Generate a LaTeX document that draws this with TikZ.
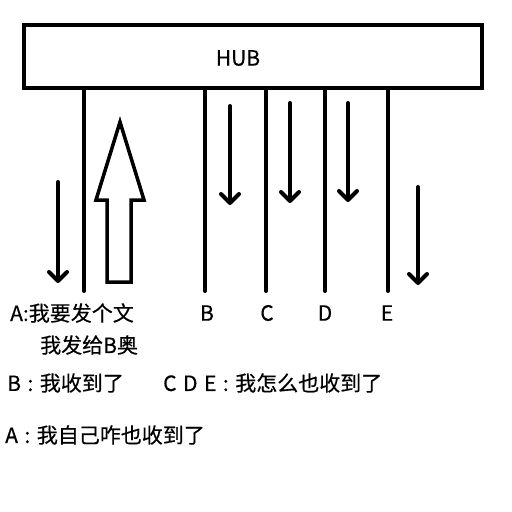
\documentclass[tikz,border=0pt]{standalone}
\usepackage{fontspec}
\setmainfont{Noto Sans CJK SC}[FakeBold=0.4]
\usetikzlibrary{arrows.meta,positioning}
\newcommand\notefont{\fontsize{21}{24}\selectfont\spaceskip=6.5pt\relax}

\begin{document}
\begin{tikzpicture}[x=1pt, y=-1pt,
    wire/.style={line width=4pt, line cap=round},
    flow/.style={line width=4pt, line cap=round, -{Straight Barb[length=9pt,width=18pt,round]}},
    port/.style={font=\fontsize{21}{24}\selectfont, inner sep=0pt},
    note/.style={font=\notefont, inner sep=0pt, anchor=west}
]
\useasboundingbox (0,0) rectangle (512,512);

% hub box
\node[draw, line width=4pt, minimum width=458pt, minimum height=63.5pt, inner sep=0pt] (hub) at (253,56.25) {};
\node[port] (hubtext) at (238,58) {HUB};

% wires down to the stations
\foreach \n/\x in {A/84,B/205,C/266,D/325,E/388}{
  \coordinate (end\n) at (\x,291);
  \draw[wire] (hub.south -| end\n) -- (end\n);
}

\node[port] (lblB) at (207,313) {B};
\node[port] (lblC) at (267,313) {C};
\node[port] (lblD) at (325,313) {D};
\node[port] (lblE) at (387,313) {E};

% frames going down
\draw[flow] (58,182) -- (58,283);
\draw[flow] (230,106) -- (230,205);
\draw[flow] (290,103) -- (290,203);
\draw[flow] (348,103) -- (348,202);
\draw[flow] (418,187) -- (418,285);

% A sends up
\draw[line width=3.5pt] (120,122) -- (144,200) -- (131,200) -- (131,282)
  -- (107,282) -- (107,200) -- (96,200) -- cycle;

\node[note] (sendA) at (10,313) {A:我要发个文};
\node[note] (sendA2) at (40,345) {我发给B奥};
\node[note] (recvB) at (7,383) {B : 我收到了};
\node[note] (recvCDE) at (163,383) {C D E : 我怎么也收到了};
\node[note] (recvA) at (5,435) {A : 我自己咋也收到了};

\end{tikzpicture}
\end{document}
